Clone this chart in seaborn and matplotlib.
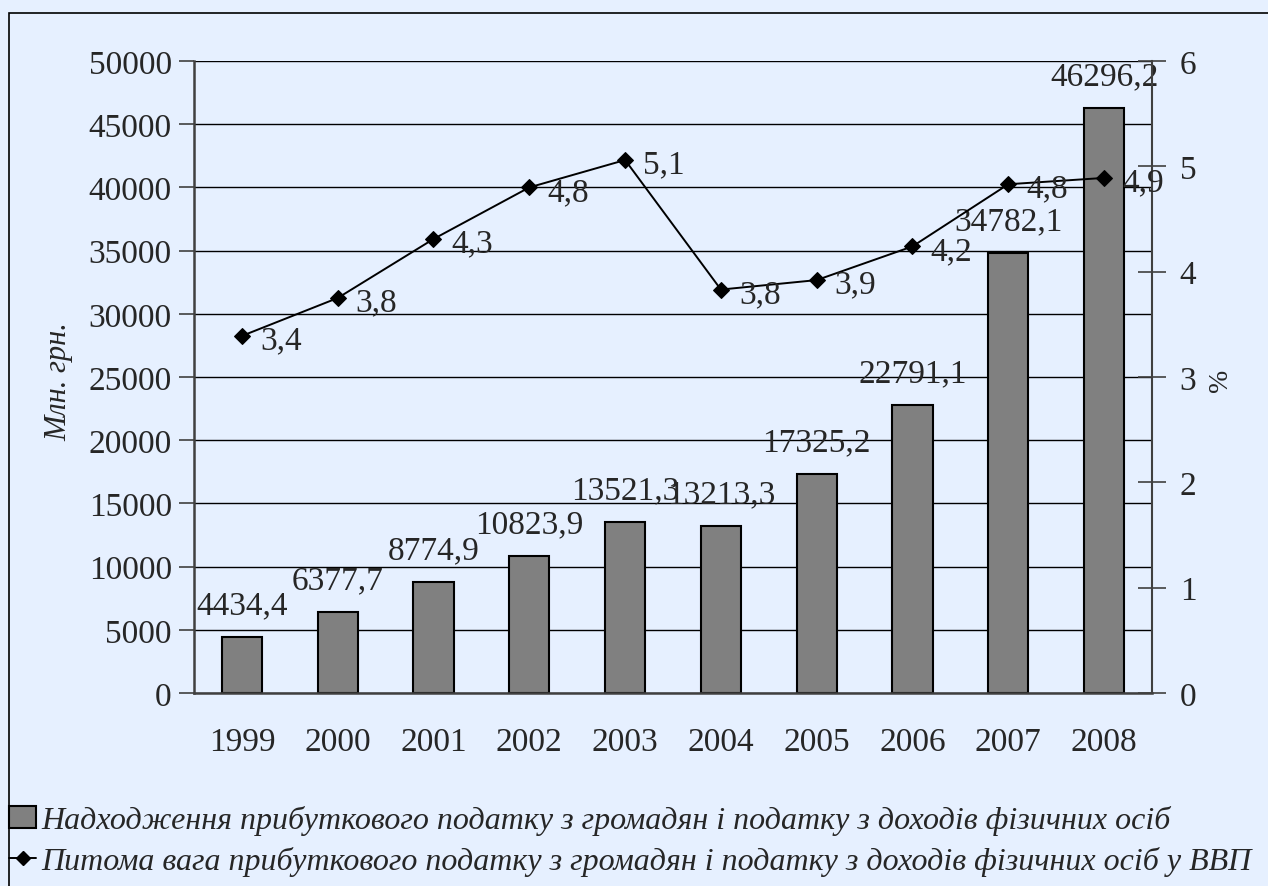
import numpy as np
import pandas as pd
import matplotlib
matplotlib.use("Agg")
import matplotlib.pyplot as plt
from matplotlib.patches import Patch, Rectangle
from matplotlib.lines import Line2D
import seaborn as sns

# data
years = ["1999", "2000", "2001", "2002", "2003", "2004", "2005", "2006", "2007", "2008"]
revenue = [4434.4, 6377.7, 8774.9, 10823.9, 13521.3, 13213.3, 17325.2, 22791.1, 34782.1, 46296.2]
gdp_share = [3.39, 3.75, 4.31, 4.80, 5.06, 3.83, 3.92, 4.24, 4.83, 4.89]
share_labels = ["3,4", "3,8", "4,3", "4,8", "5,1", "3,8", "3,9", "4,2", "4,8", "4,9"]

bar_label = "Надходження прибуткового податку з громадян і податку з доходів фізичних осіб"
line_label = "Питома вага прибуткового податку з громадян і податку з доходів фізичних осіб у ВВП"

sns.set_style("white")
plt.rcParams["font.family"] = ["Liberation Serif", "DejaVu Serif"]
plt.rcParams["font.size"] = 24

BG = "#E6F0FF"
AXC = "#404040"
FS = 24

df = pd.DataFrame({"year": years, "revenue": revenue, "share": gdp_share})

fig = plt.figure(figsize=(12.68, 8.87), dpi=100, facecolor=BG)
ax = fig.add_axes([194 / 1268, 193 / 887, 958 / 1268, 632 / 887])
ax.set_facecolor("none")

sns.barplot(data=df, x="year", y="revenue", color="#808080", saturation=1,
            edgecolor="black", linewidth=1.5, width=0.42, ax=ax, zorder=2)
ax.set_xlim(-0.5, len(years) - 0.5)
ax.set_ylim(0, 50000)
ax.set_yticks(np.arange(0, 50001, 5000))
ax.yaxis.grid(True, color="black", linewidth=1)
ax.set_axisbelow(True)
ax.set_xlabel("")
ax.set_ylabel("")

for i, v in enumerate(df["revenue"]):
    ax.annotate(f"{v:.1f}".replace(".", ","), (i, v), xytext=(0, 17),
                textcoords="offset points", ha="center", va="baseline", fontsize=FS)

# x ticks: labels at centres, tick marks at category borders
ax.set_xticks(np.arange(len(years)))
ax.set_xticks(np.arange(-0.5, len(years)), minor=True)
ax.tick_params(axis="x", which="major", length=0, pad=24, labelsize=FS)
ax.tick_params(axis="x", which="minor", length=20, direction="inout", color=AXC, width=1.5)
ax.tick_params(axis="y", length=11, direction="out", color=AXC, width=1.2, pad=5, labelsize=FS)

for s in ["top", "right"]:
    ax.spines[s].set_visible(False)
for s in ["left", "bottom"]:
    ax.spines[s].set_color(AXC)
    ax.spines[s].set_linewidth(1.8)

ax2 = ax.twinx()
sns.lineplot(x=np.arange(len(years)), y=df["share"], color="black", linewidth=1.4,
             marker="D", markersize=8, markeredgecolor="black", ax=ax2, zorder=3)
ax2.set_ylim(0, 6)
ax2.set_yticks(range(0, 7))
ax2.set_ylabel("")
ax2.tick_params(axis="y", length=20, direction="inout", color=AXC, width=1.2, pad=10, labelsize=FS)
for s in ["top", "left", "bottom"]:
    ax2.spines[s].set_visible(False)
ax2.spines["right"].set_color(AXC)
ax2.spines["right"].set_linewidth(1.5)

for i, (v, lab) in enumerate(zip(df["share"], share_labels)):
    ax2.annotate(lab, (i, v), xytext=(13, -3), textcoords="offset points",
                 ha="left", va="center", fontsize=FS)

fig.text(59 / 1268, 1 - 382 / 887, "Млн. грн.", rotation=90, ha="center", va="center",
         fontsize=22, style="italic")
fig.text(1220 / 1268, 1 - 380 / 887, "%", rotation=90, ha="center", va="center", fontsize=20)

handles = [
    Patch(facecolor="#808080", edgecolor="black", linewidth=1.5),
    Line2D([0], [0], color="black", linewidth=1.4, marker="D", markersize=7),
]
fig.legend(handles, [bar_label, line_label], loc="upper left",
           bbox_to_anchor=(9 / 1268, 1 - 806 / 887), frameon=False,
           prop={"style": "italic", "size": 23}, handlelength=0.85,
           handletextpad=0.15, labelspacing=0.35, borderpad=0, borderaxespad=0)

fig.patches.append(Rectangle((9 / 1268, -0.1), 1.2, 1.1 - 14 / 887, transform=fig.transFigure,
                             fill=False, edgecolor="black", linewidth=1.2))

fig.savefig("out.png", dpi=100, facecolor=BG)
